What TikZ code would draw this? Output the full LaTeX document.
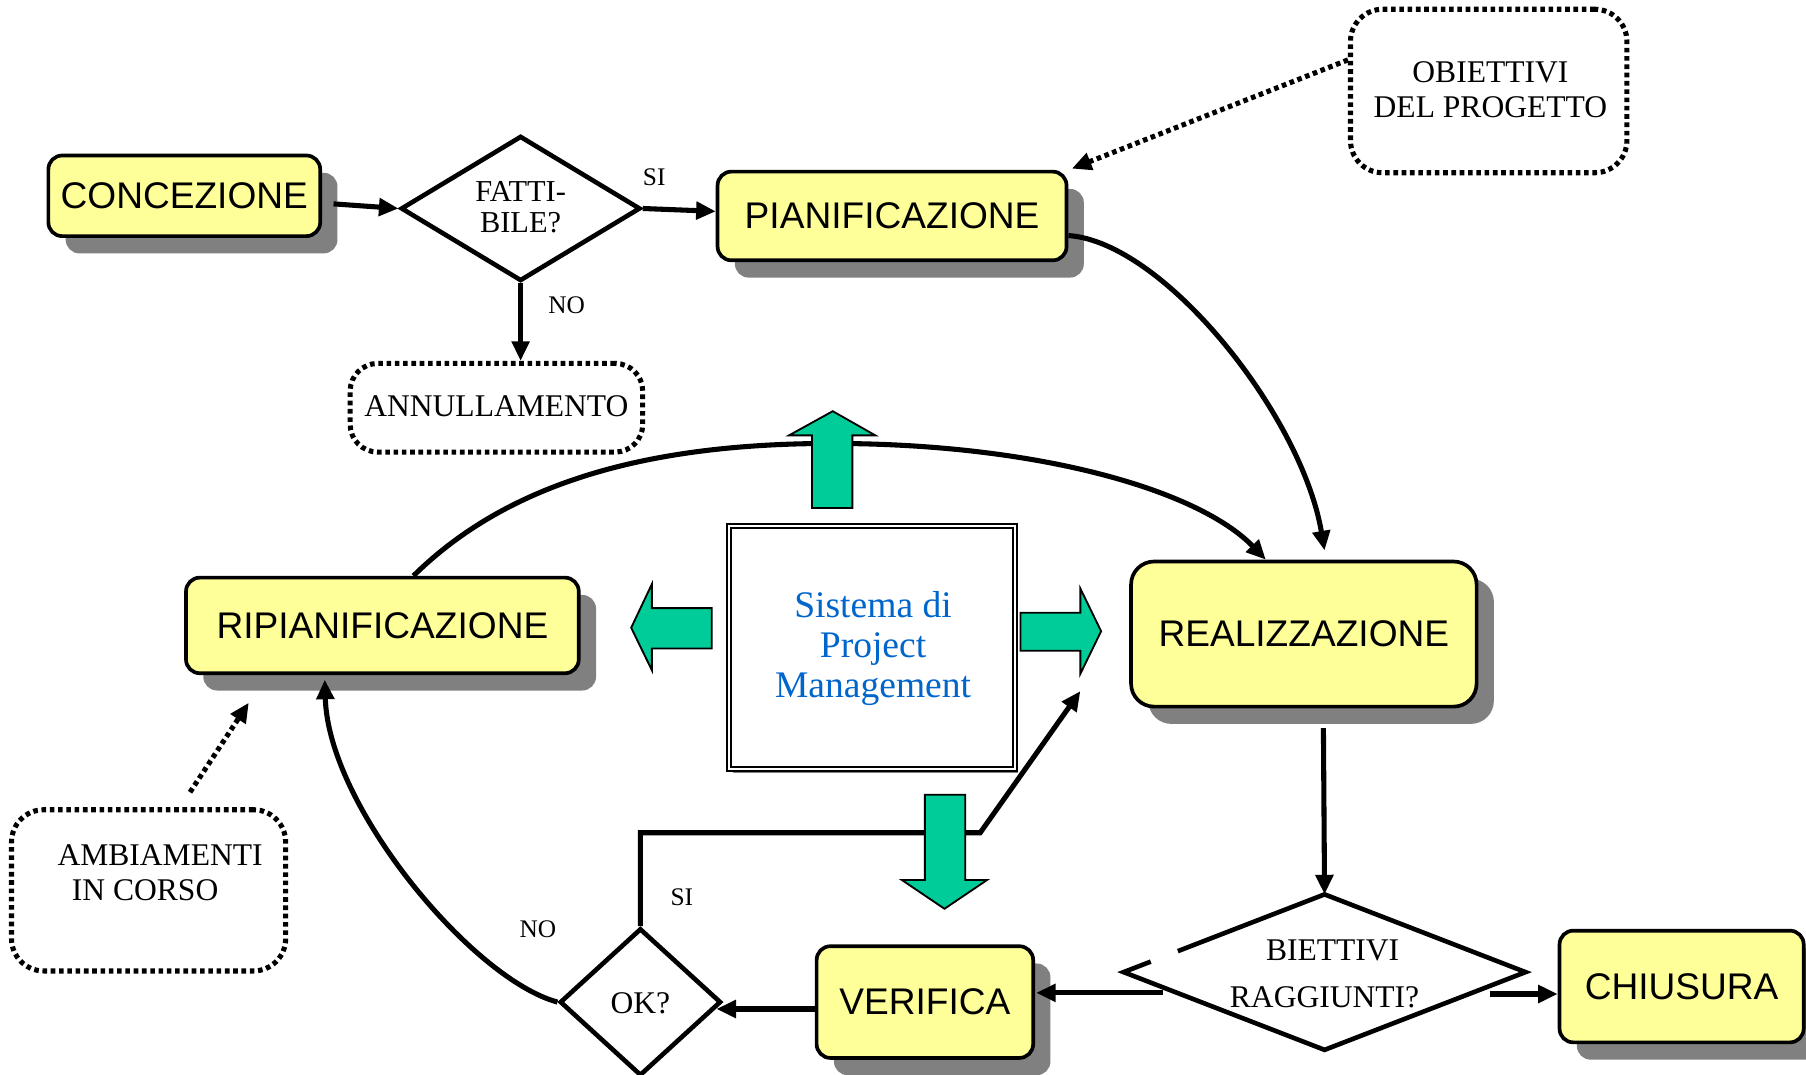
\documentclass[tikz,border=0pt]{standalone}
\usepackage{fontspec}
\setmainfont{Liberation Serif}
\newfontfamily\arialfont{Liberation Sans}
\usetikzlibrary{shapes.geometric,arrows.meta,calc,shadows}
\definecolor{boxyellow}{HTML}{FFFF99}
\definecolor{shadegray}{HTML}{808080}
\definecolor{pmgreen}{HTML}{00CC99}
\definecolor{pmblue}{HTML}{0066CC}

\begin{document}
\begin{tikzpicture}[x=0.5pt,y=-0.5pt,
  phase/.style={draw=black, line width=1.6pt, fill=boxyellow, rounded corners=6pt,
    inner sep=0pt, font=\arialfont\fontsize{16.1}{19}\selectfont,
    drop shadow={shadow xshift=7.5pt, shadow yshift=-7.5pt, fill=shadegray, opacity=1}},
  decision/.style={diamond, draw=black, line width=2pt, fill=white, inner sep=0pt},
  note/.style={draw=black, line width=2.2pt, dash pattern=on 2pt off 1.6pt,
    rounded corners=12pt, inner sep=0pt},
  txt/.style={inner sep=0pt, font=\fontsize{13.7}{15.5}\selectfont, align=center},
  lbl/.style={inner sep=0pt, font=\fontsize{11}{13}\selectfont},
  conn/.style={line width=2.2pt, -{Triangle[length=8.5pt,width=7.5pt]}},
  dotconn/.style={line width=2.2pt, dash pattern=on 2pt off 1.6pt, -{Triangle[length=8.5pt,width=7.5pt]}},
  bigarrow/.style={fill=pmgreen, draw=black, line width=0.8pt, line join=miter}]

\useasboundingbox (0,0) rectangle (1568,933);

% ---- phases ----
\node[phase, minimum width=118pt, minimum height=35pt] (conc) at (160,170) {CONCEZIONE};
\node[phase, minimum width=151.5pt, minimum height=38.5pt] (pian) at (774.5,187.5) {PIANIFICAZIONE};
\node[phase, minimum width=150pt, minimum height=63pt, rounded corners=10pt] (real) at (1132,550.5) {REALIZZAZIONE};
\node[phase, minimum width=170.5pt, minimum height=41.5pt] (rip) at (332,543) {RIPIANIFICAZIONE};
\node[phase, minimum width=94pt, minimum height=48.5pt] (verif) at (803,870) {VERIFICA};
\node[phase, minimum width=106pt, minimum height=48.5pt] (chiu) at (1460,856.5) {CHIUSURA};

% ---- notes ----
\node[note, minimum width=127pt, minimum height=38.5pt] (ann) at (431,354) {};
\node[txt] (annText) at (431,353) {ANNULLAMENTO};
\node[note, minimum width=120pt, minimum height=71pt, rounded corners=14pt] (obj) at (1292.5,79) {};
\node[txt] (objText) at (1294,78) {OBIETTIVI\\DEL PROGETTO};
\node[note, minimum width=119pt, minimum height=70pt, rounded corners=14pt] (amb) at (129,773) {};
\node[txt] (ambText1) at (139,742) {AMBIAMENTI};
\node[txt] (ambText2) at (126,773) {IN CORSO};

% ---- central system ----
\node[draw=black, line width=0.9pt, double=white, double distance=0.8pt, fill=white,
  minimum width=124pt, minimum height=105.5pt, inner sep=0pt,
  drop shadow={shadow xshift=1.5pt, shadow yshift=-1.5pt, fill=shadegray, opacity=1}]
  (sist) at (757,562.5) {};
\node[inner sep=0pt, align=center, text=pmblue, font=\fontsize{16.3}{17.5}\selectfont]
  (sistText) at (758,563) {Sistema di\\Project\\Management};

% ---- decisions ----
\node[decision, minimum width=104pt, minimum height=63pt] (fatt) at (452,181) {};
\node[txt, font=\fontsize{13.2}{13.5}\selectfont] (fattText) at (452,180) {FATTI-\\BILE?};

\node[decision, draw=none, minimum width=172.5pt, minimum height=65.5pt] (biet) at (1150,844) {};
\draw[line width=2pt, line join=miter]
  ($(biet.west)!0.27!(biet.north)$) -- (biet.north) -- (biet.east) -- (biet.south) -- (biet.west)
  -- ($(biet.west)!0.135!(biet.north)$);
\node[txt] (bietText1) at (1157,825) {BIETTIVI};
\node[txt] (bietText2) at (1150,866) {RAGGIUNTI?};

\node[decision, minimum width=70pt, minimum height=64pt] (ok) at (556,870) {};
\node[txt] (okText) at (556,871) {OK?};

% ---- labels ----
\node[lbl] (siTop) at (568,154) {SI};
\node[lbl] (noTop) at (492,265) {NO};
\node[lbl] (siOk) at (592,779) {SI};
\node[lbl] (noOk) at (467,807) {NO};

% ---- connectors ----
\draw[conn] ($(conc.east)+(10,7)$) -- (fatt.west);
\draw[conn] (fatt.east) -- ($(pian.west)+(0,-4)$);
\draw[conn] (fatt.south) -- ($(ann.north)+(21,0)$);
\draw[dotconn] ($(obj.west)+(0,-27)$) -- ($(pian.north east)+(3,-1)$);
\draw[conn] ($(pian.east)+(0,17)$) .. controls (1010,210) and (1130,360) .. ($(real.north)+(18,-8)$);
\draw[conn] ($(rip.north)+(27,0)$) .. controls (440,420) and (560,385) .. (722,385)
  .. controls (900,385) and (1040,425) .. ($(real.north)+(-33,0)$);
\draw[conn] ($(real.south)+(17,17)$) -- (biet.north);
\draw[conn] ($(biet.west)+(34,18)$) -- ($(verif.east)+(1,-8)$);
\draw[conn] ($(biet.east)+(-31,19)$) -- ($(chiu.west)+(0,6.5)$);
\draw[conn] ($(verif.west)+(0,6)$) -- ($(ok.east)+(-6,6)$);
\coordinate (okUp) at (556,723);
\coordinate (okRight) at (851,723);
\coordinate (realIn) at (938,600);
\draw[conn, line join=miter] (ok.north) -- (okUp) -- (okRight) -- (realIn);
\draw[conn] (ok.west) .. controls (410,850) and (285,700) .. ($(rip.south)+(-50,4)$);
\draw[dotconn] ($(amb.north)+(36,-13)$) -- ($(rip.south)+(-116,24)$);

% ---- block arrows around the system ----
\draw[bigarrow] (705,441) -- (705,378) -- (685,378) -- (723,357) -- (760,378) -- (740,378) -- (740,441) -- cycle;
\draw[bigarrow] (618,528) -- (566,528) -- (566,507) -- (548,545) -- (566,582) -- (566,563) -- (618,563) -- cycle;
\draw[bigarrow] (886,532) -- (938,532) -- (938,511) -- (956,548) -- (938,585) -- (938,565) -- (886,565) -- cycle;
\draw[bigarrow] (803,690) -- (838,690) -- (838,764) -- (857,764) -- (820,789) -- (783,764) -- (803,764) -- cycle;

\end{tikzpicture}
\end{document}
